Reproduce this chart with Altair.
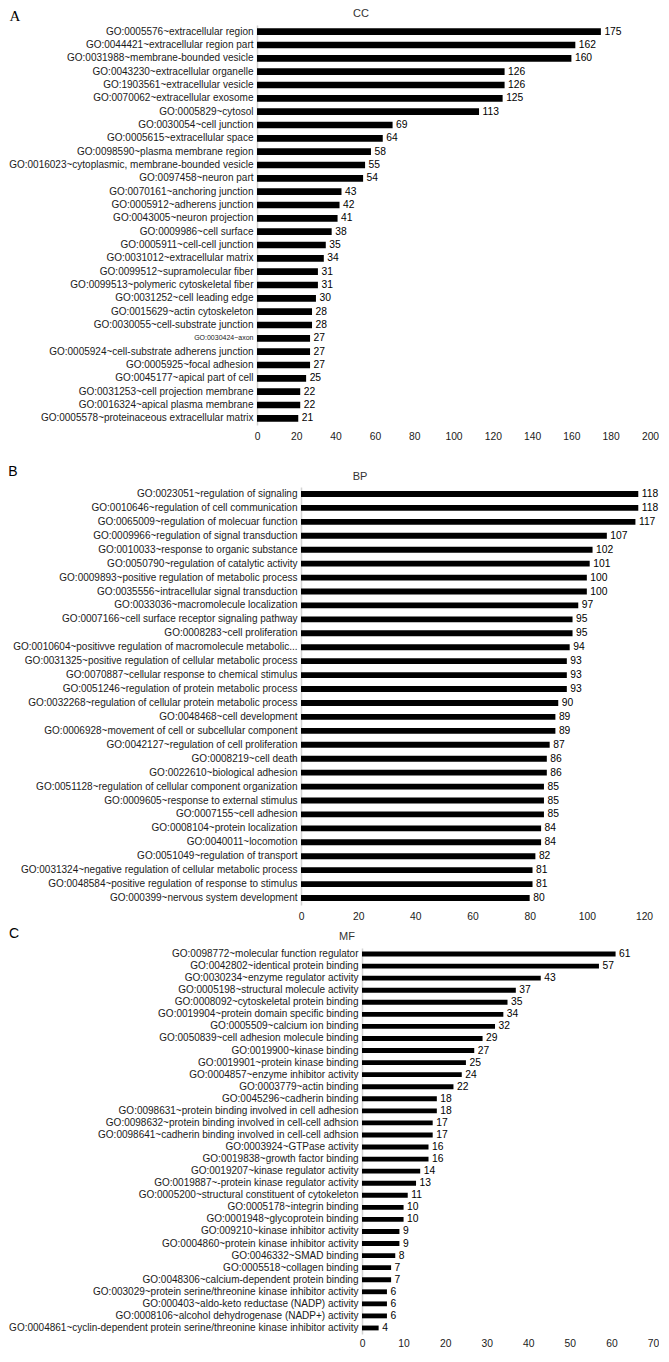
import altair as alt
import pandas as pd

FONT = "Liberation Sans"

cc_terms = [
    "GO:0005576~extracellular region",
    "GO:0044421~extracellular region part",
    "GO:0031988~membrane-bounded vesicle",
    "GO:0043230~extracellular organelle",
    "GO:1903561~extracellular vesicle",
    "GO:0070062~extracellular exosome",
    "GO:0005829~cytosol",
    "GO:0030054~cell junction",
    "GO:0005615~extracellular space",
    "GO:0098590~plasma membrane region",
    "GO:0016023~cytoplasmic, membrane-bounded vesicle",
    "GO:0097458~neuron part",
    "GO:0070161~anchoring junction",
    "GO:0005912~adherens junction",
    "GO:0043005~neuron projection",
    "GO:0009986~cell surface",
    "GO:0005911~cell-cell junction",
    "GO:0031012~extracellular matrix",
    "GO:0099512~supramolecular fiber",
    "GO:0099513~polymeric cytoskeletal fiber",
    "GO:0031252~cell leading edge",
    "GO:0015629~actin cytoskeleton",
    "GO:0030055~cell-substrate junction",
    "GO:0030424~axon",
    "GO:0005924~cell-substrate adherens junction",
    "GO:0005925~focal adhesion",
    "GO:0045177~apical part of cell",
    "GO:0031253~cell projection membrane",
    "GO:0016324~apical plasma membrane",
    "GO:0005578~proteinaceous extracellular matrix",
]
cc_counts = [175, 162, 160, 126, 126, 125, 113, 69, 64, 58, 55, 54, 43, 42, 41,
             38, 35, 34, 31, 31, 30, 28, 28, 27, 27, 27, 25, 22, 22, 21]
cc_ticks = [0, 20, 40, 60, 80, 100, 120, 140, 160, 180, 200]

bp_terms = [
    "GO:0023051~regulation of signaling",
    "GO:0010646~regulation of cell communication",
    "GO:0065009~regulation of molecuar function",
    "GO:0009966~regulation of signal transduction",
    "GO:0010033~response to organic substance",
    "GO:0050790~regulation of catalytic activity",
    "GO:0009893~positive regulation of metabolic process",
    "GO:0035556~intracellular signal transduction",
    "GO:0033036~macromolecule localization",
    "GO:0007166~cell surface receptor signaling pathway",
    "GO:0008283~cell proliferation",
    "GO:0010604~positivve regulation of macromolecule metabolic...",
    "GO:0031325~positive regulation of cellular metabolic process",
    "GO:0070887~cellular response to chemical stimulus",
    "GO:0051246~regulation of protein metabolic process",
    "GO:0032268~regulation of cellular protein metabolic process",
    "GO:0048468~cell development",
    "GO:0006928~movement of cell or subcellular component",
    "GO:0042127~regulation of cell proliferation",
    "GO:0008219~cell death",
    "GO:0022610~biological adhesion",
    "GO:0051128~regulation of cellular component organization",
    "GO:0009605~response to external stimulus",
    "GO:0007155~cell adhesion",
    "GO:0008104~protein localization",
    "GO:0040011~locomotion",
    "GO:0051049~regulation of transport",
    "GO:0031324~negative regulation of cellular metabolic process",
    "GO:0048584~positive regulation of response to stimulus",
    "GO:000399~nervous system development",
]
bp_counts = [118, 118, 117, 107, 102, 101, 100, 100, 97, 95, 95, 94, 93, 93, 93,
             90, 89, 89, 87, 86, 86, 85, 85, 85, 84, 84, 82, 81, 81, 80]
bp_ticks = [0, 20, 40, 60, 80, 100, 120]

mf_terms = [
    "GO:0098772~molecular function regulator",
    "GO:0042802~identical protein binding",
    "GO:0030234~enzyme regulator activity",
    "GO:0005198~structural molecule activity",
    "GO:0008092~cytoskeletal protein binding",
    "GO:0019904~protein domain specific binding",
    "GO:0005509~calcium ion binding",
    "GO:0050839~cell adhesion molecule binding",
    "GO:0019900~kinase binding",
    "GO:0019901~protein kinase binding",
    "GO:0004857~enzyme inhibitor activity",
    "GO:0003779~actin binding",
    "GO:0045296~cadherin binding",
    "GO:0098631~protein binding involved in cell adhesion",
    "GO:0098632~protein binding involved in cell-cell adhsion",
    "GO:0098641~cadherin binding involved in cell-cell adhsion",
    "GO:0003924~GTPase activity",
    "GO:0019838~growth factor binding",
    "GO:0019207~kinase regulator activity",
    "GO:0019887~-protein kinase regulator activity",
    "GO:0005200~structural constituent of cytokeleton",
    "GO:0005178~integrin binding",
    "GO:0001948~glycoprotein binding",
    "GO:009210~kinase inhibitor activity",
    "GO:0004860~protein kinase inhibitor activity",
    "GO:0046332~SMAD binding",
    "GO:0005518~collagen binding",
    "GO:0048306~calcium-dependent protein binding",
    "GO:003029~protein serine/threonine kinase inhibitor activity",
    "GO:000403~aldo-keto reductase (NADP) activity",
    "GO:0008106~alcohol dehydrogenase (NADP+) activity",
    "GO:0004861~cyclin-dependent protein serine/threonine kinase inhibitor activity",
]
mf_counts = [61, 57, 43, 37, 35, 34, 32, 29, 27, 25, 24, 22, 18, 18, 17, 17, 16,
             16, 14, 13, 11, 10, 10, 9, 9, 8, 7, 7, 6, 6, 6, 4]
mf_ticks = [0, 10, 20, 30, 40, 50, 60, 70]

LABEL_SIZE = 10.0
SMALL_LABEL = "GO:0030424~axon"


def panel(terms, counts, ticks, shift, right, height, pad_inner, xlab_pad,
          letter, letter_font, letter_size, letter_xy, title, title_xy):
    """shift: how far right of the shared column origin this panel's y axis sits."""
    df = pd.DataFrame({"term": terms, "count": counts})
    label_size = {
        "condition": {"test": f"datum.value == '{SMALL_LABEL}'", "value": 7},
        "value": LABEL_SIZE,
    }
    y = alt.Y(
        "term:N", sort=terms, title=None,
        scale=alt.Scale(paddingInner=pad_inner, paddingOuter=pad_inner / 2),
        axis=alt.Axis(
            ticks=False, tickSize=0, labelPadding=4, labelFont=FONT,
            labelFontSize=label_size, labelColor="#1a1a1a", labelLimit=1000,
            labelOverlap=False,
            domainColor="#d4d4d4", domainWidth=1.5, grid=False, offset=-shift,
        ),
    )
    x = alt.X(
        "count:Q", title=None,
        scale=alt.Scale(domain=[ticks[0], ticks[-1]], nice=False,
                        range=[shift, right]),
        axis=alt.Axis(
            values=ticks, tickCount=len(ticks) + 2, grid=False, domain=False,
            ticks=False, tickSize=0,
            labelPadding=xlab_pad, labelFont=FONT, labelFontSize=10.3,
            labelColor="#1a1a1a", labelFlush=False, labelOverlap=False,
        ),
    )
    base = alt.Chart(df)
    bars = base.mark_bar(color="black").encode(x=x, y=y)
    values = base.mark_text(
        align="left", baseline="middle", dx=3.5, font=FONT, fontSize=10.3,
        color="black",
    ).encode(x="count:Q", y=alt.Y("term:N", sort=terms), text="count:Q")
    letter_layer = alt.Chart(pd.DataFrame({"t": [letter]})).mark_text(
        align="center", baseline="middle", font=letter_font,
        fontSize=letter_size, color="black",
    ).encode(x=alt.value(letter_xy[0]), y=alt.value(letter_xy[1]), text="t:N")
    title_layer = alt.Chart(pd.DataFrame({"t": [title]})).mark_text(
        align="center", baseline="middle", font=FONT, fontSize=11,
        color="#333333",
    ).encode(x=alt.value(title_xy[0]), y=alt.value(title_xy[1]), text="t:N")
    return alt.layer(bars, values, letter_layer, title_layer).properties(
        width=right, height=height
    )


cc = panel(cc_terms, cc_counts, cc_ticks, 0, 393, 400, 0.5, 6,
           "A", "Liberation Serif", 15, (-242, -9), "CC", (104, -11))
bp = panel(bp_terms, bp_counts, bp_ticks, 44, 387, 418, 0.58, 6,
           "B", FONT, 14, (-244, -15), "BP", (103, -10))
mf = panel(mf_terms, mf_counts, mf_ticks, 105, 396, 386, 0.6, 4,
           "C", FONT, 14, (-243, -14), "MF", (90, -11))

top = alt.concat(cc, bp, columns=1, align="none", spacing=23)
chart = alt.concat(top, mf, columns=1, align="none", spacing=5).properties(
    padding=0, background="white"
).configure_view(stroke=None)

chart.save("out.html", embed_options={"renderer": "svg", "actions": False})
